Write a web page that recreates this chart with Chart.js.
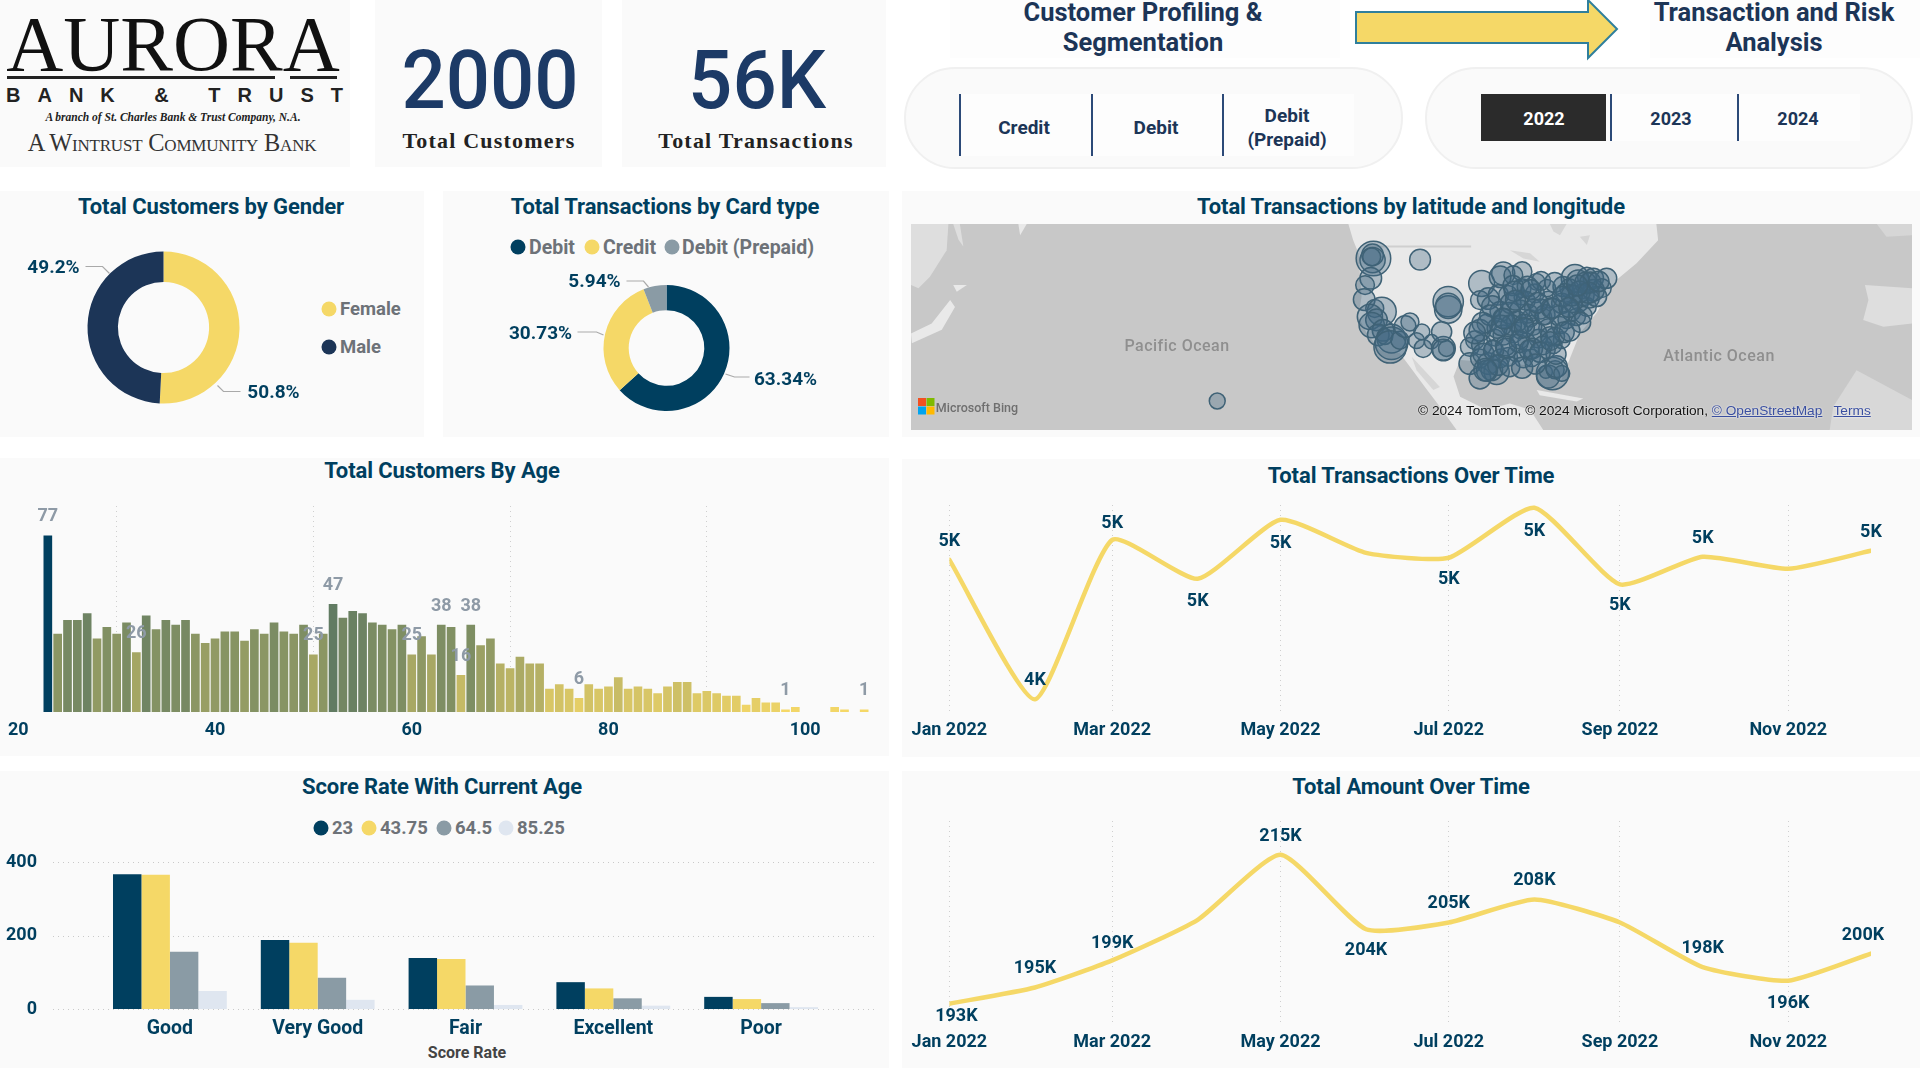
<!DOCTYPE html>
<html><head><meta charset="utf-8">
<script src="https://cdn.jsdelivr.net/npm/chart.js@4/dist/chart.umd.js"></script>
<style>
html,body{margin:0;padding:0;background:#fff;width:1920px;height:1080px;overflow:hidden;font-family:Roboto,sans-serif}
.p{position:absolute;background:#fafafa}
.t{position:absolute;transform:translate(-50%,-50%);white-space:nowrap;text-align:center}
.title{font-weight:700;font-size:22px;color:#003f5f;letter-spacing:-.1px}
.head{font-weight:700;font-size:25.5px;color:#1c3557;line-height:30px}
.kpi{font-weight:500;font-size:82px;color:#1c3a66;transform:translate(-50%,-50%) scaleX(.95)}
.kcap{font-family:"Liberation Serif",serif;font-weight:700;font-size:22px;color:#222;letter-spacing:1.2px}
.sl{font-weight:700;font-size:19px;color:#1c3557;line-height:24px}
.v{position:absolute;width:1.5px;background:#2c4a78}
.pill{position:absolute;background:#fafafa;border:2px solid #f0f0f0;border-radius:52px;box-sizing:border-box}
.leg{position:absolute;transform:translateY(-50%);font-weight:700;font-size:18.5px;color:#6d7278;white-space:nowrap}
.leg.w{font-size:19.5px}
.dot{position:absolute;width:15px;height:15px;border-radius:50%;transform:translate(-50%,-50%)}
canvas{position:absolute}
</style></head><body>
<div class="p" style="left:0;top:0;width:350px;height:167px"></div>
<div class="p" style="left:375px;top:0;width:227px;height:167px"></div>
<div class="p" style="left:622px;top:0;width:264px;height:167px"></div>
<div class="p" style="left:0;top:191px;width:424px;height:246px"></div>
<div class="p" style="left:443px;top:191px;width:446px;height:246px"></div>
<div class="p" style="left:902px;top:191px;width:1018px;height:246px"></div>
<div class="p" style="left:911px;top:224px;width:1001px;height:206px;background:#c8c8c8"></div>
<div class="p" style="left:0;top:458px;width:889px;height:298px"></div>
<div class="p" style="left:902px;top:459px;width:1018px;height:298px"></div>
<div class="p" style="left:0;top:771px;width:889px;height:297px"></div>
<div class="p" style="left:902px;top:771px;width:1018px;height:297px"></div>

<!-- logo -->
<div class="t" style="left:173px;top:44px;font:400 79px 'Liberation Serif',serif;color:#111">AURORA</div>
<div style="position:absolute;left:7px;top:76px;width:268px;height:3px;background:#222"></div>
<div style="position:absolute;left:290px;top:76px;width:47px;height:3px;background:#222"></div>
<div class="t" style="left:183px;top:95px;font:700 20px 'Liberation Sans',sans-serif;color:#222;letter-spacing:17px">BANK &amp; TRUST</div>
<div class="t" style="left:173px;top:117px;font:italic 700 11.5px 'Liberation Serif',serif;color:#222">A branch of St. Charles Bank &amp; Trust Company, N.A.</div>
<div class="t" style="left:172px;top:143px;font:400 24.4px 'Liberation Serif',serif;font-variant:small-caps;color:#333;letter-spacing:-.2px">A Wintrust Community Bank</div>

<div class="t kpi" style="left:490px;top:80px">2000</div>
<div class="t kcap" style="left:489px;top:141px">Total Customers</div>
<div class="t kpi" style="left:757px;top:80px">56K</div>
<div class="t kcap" style="left:756px;top:141px">Total Transactions</div>

<!-- header -->
<div class="p" style="left:950px;top:0;width:390px;height:58px;background:#fdfdfd"></div>
<div class="t head" style="left:1143px;top:27px">Customer Profiling &amp;<br>Segmentation</div>
<svg style="position:absolute;left:1350px;top:0" width="275" height="62"><path d="M6 12H238V0L267 29 238 58V43H6Z" fill="#f5d867" stroke="#2f7f9c" stroke-width="2"/></svg>
<div class="p" style="left:1650px;top:0;width:270px;height:58px;background:#fdfdfd"></div>
<div class="t head" style="left:1774px;top:27px">Transaction and Risk<br>Analysis</div>

<div class="pill" style="left:904px;top:67px;width:499px;height:102px"></div>
<div class="pill" style="left:1425px;top:67px;width:488px;height:102px"></div>
<div class="p" style="left:959px;top:94px;width:395px;height:62px;background:#fdfdfd"></div>
<div class="v" style="left:959px;top:94px;height:62px"></div>
<div class="v" style="left:1091px;top:94px;height:62px"></div>
<div class="v" style="left:1222px;top:94px;height:62px"></div>
<div class="t sl" style="left:1024px;top:128px">Credit</div>
<div class="t sl" style="left:1156px;top:128px">Debit</div>
<div class="t sl" style="left:1287px;top:128px">Debit<br>(Prepaid)</div>
<div class="p" style="left:1610px;top:94px;width:250px;height:47px;background:#fdfdfd"></div>
<div style="position:absolute;left:1481px;top:94px;width:125px;height:47px;background:#2b2b2b"></div>
<div class="v" style="left:1610px;top:94px;height:47px"></div>
<div class="v" style="left:1737px;top:94px;height:47px"></div>
<div class="t sl" style="left:1544px;top:119px;color:#fff;font-size:18px">2022</div>
<div class="t sl" style="left:1671px;top:119px;font-size:18px">2023</div>
<div class="t sl" style="left:1798px;top:119px;font-size:18px">2024</div>

<!-- titles -->
<div class="t title" style="left:211px;top:206px">Total Customers by Gender</div>
<div class="t title" style="left:665px;top:206px">Total Transactions by Card type</div>
<div class="t title" style="left:1411px;top:206px">Total Transactions by latitude and longitude</div>
<div class="t title" style="left:442px;top:470px">Total Customers By Age</div>
<div class="t title" style="left:1411px;top:475px">Total Transactions Over Time</div>
<div class="t title" style="left:442px;top:786px">Score Rate With Current Age</div>
<div class="t title" style="left:1411px;top:786px">Total Amount Over Time</div>

<!-- legends -->
<div class="dot" style="left:329px;top:309px;background:#f5d867"></div><div class="leg" style="left:340px;top:309px">Female</div>
<div class="dot" style="left:329px;top:347px;background:#1c3557"></div><div class="leg" style="left:340px;top:347px">Male</div>
<div class="dot" style="left:518px;top:247px;background:#003f5f"></div><div class="leg w" style="left:529px;top:247px">Debit</div>
<div class="dot" style="left:592px;top:247px;background:#f5d867"></div><div class="leg w" style="left:603px;top:247px">Credit</div>
<div class="dot" style="left:672px;top:247px;background:#8a9ba5"></div><div class="leg w" style="left:682px;top:247px">Debit (Prepaid)</div>
<div class="dot" style="left:321px;top:828px;background:#003f5f"></div><div class="leg" style="left:332px;top:828px">23</div>
<div class="dot" style="left:369px;top:828px;background:#f5d867"></div><div class="leg" style="left:380px;top:828px">43.75</div>
<div class="dot" style="left:444px;top:828px;background:#8a9ba5"></div><div class="leg" style="left:455px;top:828px">64.5</div>
<div class="dot" style="left:506px;top:828px;background:#dfe6f0"></div><div class="leg" style="left:517px;top:828px">85.25</div>
<div class="t" style="left:467px;top:1052px;font-size:16px;font-weight:700;color:#444">Score Rate</div>

<script>
/* ---------- data ---------- */
const genderNames=['Female','Male'];
const genderShare=[50.8,49.2];
const cardNames=['Debit','Credit','Debit (Prepaid)'];
const cardShare=[63.34,30.73,5.94];

const ageYears=[23,24,25,26,27,28,29,30,31,32,33,34,35,36,37,38,39,40,41,42,43,44,45,46,47,48,49,50,51,52,53,54,55,56,57,58,59,60,61,62,63,64,65,66,67,68,69,70,71,72,73,74,75,76,77,78,79,80,81,82,83,84,85,86,87,88,89,90,91,92,93,94,95,96,97,98,99,103,104,106];
const ageCustomers=[77,34,40,40,43,32,37,34,39,26,42,36,40,38,40,34,30,32,35,35,31,36,34,39,35,34,38,25,34,47,41,44,43,39,38,36,38,25,33,25,38,37,16,38,29,32,21,19,24,21,21,10,12,10,6,12,10,11,15,10,11,10,8,11,13,13,8,9,8,7,7,3,6,4,4,1,2,2,1,1];
const ageLabelled=[23,32,50,52,60,63,65,66,77,98,106];
const ageTicks=[20,40,60,80,100];

const scoreRates=['Good','Very Good','Fair','Excellent','Poor'];
const scoreAge23=[367,188,139,73,33];
const scoreAge4375=[365,180,136,56,27];
const scoreAge645=[156,85,64,29,16];
const scoreAge8525=[49,25,11,9,5];

const monthDays=[0,31,59,90,120,151,181,212,243,273,304,334];
const monthTickDays=[0,59,120,181,243,304];
const monthTickLabels=['Jan 2022','Mar 2022','May 2022','Jul 2022','Sep 2022','Nov 2022'];
const monthlyTransactions=[4723,3510,4897,4558,5071,4784,4741,5176,4510,4750,4645,4802];
const monthlyAmount=[193000,195400,199400,205400,215000,204000,205000,208400,205000,198400,196400,200400];

/* map: longitude, latitude, transactions at each location */
const mapLon=[-122.2,-122.4,-122.4,-122.6,-111.6,-122.8,-124.1,-124.3,-121.9,-120.3,-123,-121.5,-122.6,-120,-121.1,-118.1,-119.6,-118.1,-118.4,-116.2,-115,-113.9,-111.2,-112.4,-110.9,-109,-106.3,-106.7,-106.3,-105.6,-105.2,-105.2,-105.2,-157.7,
-97.6,-92.7,-93.4,-88.4,-90.4,-98,-96.1,-93.8,-91.6,-88.5,-88.5,-85.1,-85.5,-82.5,-82.8,-91.2,-88.9,-85.9,-83.6,-86.6,-93.4,
-76.4,-73.7,-72.2,-69.2,-70.3,-77.7,-79.1,-74.5,-72.2,-75.3,-73.7,-77.2,-79.4,-73,-71.5,-76,-74.5,-78.3,-79.8,-82.5,
-96.5,-98,-99.1,-100.3,-97.6,-94.6,-95,-100.3,-98,-96.1,-98,-94.2,-95.3,-91.6,-90.4,-92.7,-87.4,-84.7,-88.1,-86.2,-81.3,-79.4,-80.9,-85.9,-88.9,-82.8,-93.4,-89.7,
-81.5,-83,-80.9,-82.5,-80.6,-79.4,
-90.5,-87.2,-84.1,-81,-95.2,-91,-87.6,-84.3,-81.8,-78.6,-92.8,-89.6,-86.9,-83.2,-79.9,-76.9,-94.1,-90.9,-88,-85.1,-82.1,-78.9,-75.1,-92.2,-89.2,-86.1,-83.7,-80.7,-77.6,-97.2,-94.9,-92,-89,-86.8,-84.3,-82,-96.4,-93.9,-91.2,-88.4,-85.4,-75.7,-74,-72.9,-77.1,-75.4,-73.3,
-95.7,-97.4,-99.2,-96.8,-93.1,-90.2,-86.4,-84.9,-81.5,-79.2,-77.8,-75.9,-71,-89.9,-92.5,-87.9];
const mapLat=[47.5,48.2,47.2,47.8,47.3,43.7,42.4,39.6,37.9,37.3,36.3,35.7,34.7,33.7,32.8,32.1,32.5,31.2,30.5,31.8,34.4,35.3,33.4,31.7,30.2,31.5,30.2,33.4,29.9,30.2,39.2,37.7,38.4,20.1,
42.7,44.6,44,45,44.3,39.5,39.8,40.5,40.5,41.8,40,43,40.8,39.6,41.8,37,37.6,38.1,36.3,36,37.3,
43.7,44,43.7,43.7,41.8,41.8,42.1,40.5,41.4,38.9,38.2,37.3,38.9,39.8,40.2,36.3,36.6,35.7,34.7,34.1,
35,33.7,31.8,30.5,30.9,32.3,30.2,27.3,28.3,27.3,24.5,25.7,26.1,28.6,33.1,32.8,31.5,32.1,28.3,28.4,30.9,31.8,32.5,34.4,33.7,29.9,28.3,29.3,
25.4,25.7,26.1,24.8,26.7,25.4,
42.3,42.1,43.2,42.9,38.3,38.9,39.4,37.8,38,40.9,36,35.4,36.9,36.7,36.5,38.9,34.1,34.7,35,33.2,32.6,33.3,35.2,30.7,31.2,30.2,30.8,29.1,33.6,29.2,29.8,30.2,31.9,29.9,29.5,31.6,25.9,27,26.7,26.5,27.2,43.1,42.8,42.9,40.4,41.1,40.9,
36.6,35.1,33.2,26.1,34.6,41.2,41.5,39,37.9,40.2,38.1,42.3,43.1,39.5,35.9,34.2];
const mapTxn=[256,100,136,69,93,100,75,100,69,178,136,100,136,100,100,178,54,225,225,69,100,69,54,54,69,44,121,87,100,54,196,160,136,54,
144,114,100,81,75,75,100,87,75,75,49,60,75,60,64,100,87,64,60,64,87,
160,75,87,87,75,75,87,100,100,60,75,75,87,75,87,64,64,64,64,75,
75,100,75,75,87,60,64,100,75,100,100,136,100,75,75,87,64,75,75,64,64,60,75,64,60,60,75,64,
225,36,69,114,100,54,
85,90,75,85,95,90,75,85,90,75,85,90,75,85,90,75,85,90,75,85,75,90,85,85,75,90,75,85,90,95,85,90,75,85,90,75,95,90,85,95,85,110,100,95,95,100,95,
90,95,100,110,90,85,85,90,85,90,85,95,90,85,90,85];

/* base map outlines, [longitude, latitude] */
const northAmerica=[[-127.9,54.14],[-126.8,51],[-125.6,48.5],[-124.9,40.2],[-125.6,36.3],[-123.7,33.1],[-120.7,29.9],[-116.2,29.3],[-113.9,26.7],[-110.5,22.8],[-107.1,19],[-103.3,14.52],[-83.6,14.52],[-86.6,18.4],[-91.2,19.6],[-96.5,18.4],[-102.5,20.9],[-104,24.8],[-102.5,28],[-91.2,27.3],[-84,26.7],[-79.8,23.5],[-78.3,26.7],[-75.3,33.1],[-71.5,37],[-66.9,43.4],[-62.4,46.6],[-57.5,51],[-57.9,54.14]];
const cuba=[[-85.1,22.2],[-74.5,20.6],[-76,20],[-84.4,21.2]];
const eastAsia=[[-227.3,54.14],[-218.8,54.14],[-219.2,49.1],[-223,44],[-225.6,41.8],[-227.3,42.4]];
const kamchatka=[[-217.7,54.14],[-216.2,54.14],[-215.4,49.8],[-216.5,51.1]];
const hokkaido=[[-217.7,42.4],[-214.6,42.4],[-216.9,41.1]];
const honshu=[[-218.4,39.5],[-217.3,38.2],[-220.3,33.8],[-227.1,31.2],[-227.3,33.1],[-222.6,35]];
const alaskaTip=[[-202.9,54.14],[-201,54.14],[-202.5,52]];
const iberiaAfrica=[[0.2,41.8],[-10.5,42.4],[-9.7,39.5],[-10.9,35.7],[-6.3,34.4],[0.2,35]];
const westAfrica=[[-17.7,19],[-12.4,26],[0.2,20.3],[0.2,14.52],[-18.5,14.52]];
const northEurope=[[-7.8,54.14],[0.2,54.14],[0.2,52],[-5.6,51.7]];
const gulfOfCalifornia=[[-113.5,28.6],[-107.1,22.8],[-108.6,22.2],[-112.4,26]];
const lakeSuperior=[[-91.2,49.1],[-86.6,48.5],[-84.4,46.9],[-88.1,47.5]];
const hudson=[[-82.1,54.14],[-78.3,54.14],[-79.8,52],[-81.3,52.7]];
const jamesBay=[[-75.3,51.7],[-73,52],[-73.7,50.1]];
const canadaBorder=[[-124,49.8],[-100,49.8]];

/* ---------- helpers ---------- */
const GOLD='#f5d867',NAVY='#003f5f',GREY='#8a9ba5',PALE='#dfe6f0',INK='#003f5f';
const FONT='Roboto';
Chart.defaults.font.family=FONT;
Chart.defaults.animation=false;
Chart.defaults.responsive=false;
Chart.defaults.devicePixelRatio=1;
Chart.defaults.plugins.legend.display=false;
Chart.defaults.plugins.tooltip.enabled=false;
function canvas(x,y,w,h){const c=document.createElement('canvas');c.width=w;c.height=h;c.style.left=x+'px';c.style.top=y+'px';c.style.width=w+'px';c.style.height=h+'px';document.body.appendChild(c);return c;}
const dottedGrid={display:true,color:'#cfcfcf',lineWidth:1,drawTicks:false};
const dottedBorder={display:false,dash:[1,4]};

/* text + elbow leader for the doughnuts */
const calloutPlugin={id:'callouts',afterDraw(chart,_,o){
  const c=chart.ctx,m=chart.getDatasetMeta(0).data[0],d=chart.data.datasets[0].data;
  c.save();c.font='700 19px '+FONT;c.textAlign='center';c.textBaseline='middle';
  o.items.forEach(it=>{
    c.fillStyle=INK;c.fillText(d[it.i]+'%',m.x+it.tx,m.y+it.ty+1);
    c.strokeStyle='#a9a9a9';c.lineWidth=1.2;c.beginPath();
    it.line.forEach((p,k)=>k?c.lineTo(m.x+p[0],m.y+p[1]):c.moveTo(m.x+p[0],m.y+p[1]));c.stroke();
  });c.restore();}};
/* value labels on line points */
const pointLabelPlugin={id:'ptLabels',afterDatasetsDraw(chart,_,o){
  const c=chart.ctx,pts=chart.getDatasetMeta(0).data,d=chart.data.datasets[0].data;
  c.save();c.font='700 18px '+FONT;c.fillStyle=INK;c.textAlign='center';c.textBaseline='middle';
  o.offsets.forEach((of,i)=>{if(!of)return;c.fillText(Math.round(d[i].y/1000)+'K',pts[i].x+of[0],pts[i].y+of[1]+o.shift);});
  c.restore();}};
/* value labels above selected age bars */
const ageLabelPlugin={id:'ageLabels',afterDatasetsDraw(chart){
  const c=chart.ctx,m=chart.getDatasetMeta(0).data;
  c.save();c.font='700 18px '+FONT;c.fillStyle='#8e9aa6';c.textAlign='center';c.textBaseline='middle';
  ageYears.forEach((a,i)=>{if(ageLabelled.includes(a))c.fillText(ageCustomers[i],m[i].x,m[i].y-19);});
  c.restore();}};
/* horizontal dotted gridlines that run wider than the bar band */
const wideGridPlugin={id:'wideGrid',beforeDatasetsDraw(chart,_,o){
  const c=chart.ctx,y=chart.scales.y;c.save();c.strokeStyle='#c9c9c9';c.lineWidth=1;c.setLineDash([1,4]);
  y.ticks.forEach(t=>{const p=Math.round(y.getPixelForValue(t.value))+.5;c.beginPath();c.moveTo(o.from,p);c.lineTo(o.to,p);c.stroke();});
  c.restore();}};

/* ---------- doughnuts ---------- */
new Chart(canvas(0,191,424,246),{type:'doughnut',plugins:[calloutPlugin],
 data:{labels:genderNames,datasets:[{data:genderShare,backgroundColor:[GOLD,'#1c3557'],borderWidth:0}]},
 options:{cutout:'60%',layout:{padding:{left:87.5,right:184.5,top:60.5,bottom:33.5}},
  plugins:{callouts:{items:[
   {i:1,tx:-110,ty:-60,line:[[-78,-61],[-61,-61],[-54,-54]]},
   {i:0,tx:110,ty:65,line:[[77,64],[60,64],[54,58]]}]}}}});

new Chart(canvas(443,191,446,246),{type:'doughnut',plugins:[calloutPlugin],
 data:{labels:cardNames,datasets:[{data:cardShare,backgroundColor:[NAVY,GOLD,GREY],borderWidth:0}]},
 options:{cutout:'60%',layout:{padding:{left:160.5,right:159.5,top:94,bottom:26}},
  plugins:{callouts:{items:[
   {i:2,tx:-72,ty:-67,line:[[-40,-67],[-23,-67],[-18,-61]]},
   {i:1,tx:-126,ty:-15,line:[[-89,-16],[-70,-16],[-63,-13]]},
   {i:0,tx:119,ty:31,line:[[83,29],[68,29],[59,26]]}]}}}});

/* ---------- map ---------- */
const LAND='#e9e9e9',LAND2='#dedede',INLET='#d6d6d6';
const baseShapes=[
 [northAmerica,LAND],[cuba,LAND],[eastAsia,LAND2],[kamchatka,LAND2],[hokkaido,LAND],[honshu,LAND],[alaskaTip,LAND],
 [iberiaAfrica,LAND2],[westAfrica,'#d8d8d8'],[northEurope,INLET],
 [gulfOfCalifornia,INLET],[lakeSuperior,INLET],[hudson,INLET],[jamesBay,INLET]];
/* base map: outlines projected through the chart's lon/lat scales, under the bubbles */
const baseMapPlugin={id:'baseMap',beforeDatasetsDraw(chart){
  const c=chart.ctx,X=chart.scales.x,Y=chart.scales.y,A=chart.chartArea;
  const trace=pts=>{c.beginPath();pts.forEach((p,k)=>{const x=X.getPixelForValue(p[0]),y=Y.getPixelForValue(p[1]);k?c.lineTo(x,y):c.moveTo(x,y);});};
  c.save();c.beginPath();c.rect(A.left,A.top,A.right-A.left,A.bottom-A.top);c.clip();
  baseShapes.forEach(([pts,color])=>{trace(pts);c.closePath();c.fillStyle=color;c.fill();});
  trace(canadaBorder);c.strokeStyle='#cfcfcf';c.lineWidth=2;c.stroke();
  c.restore();}};
new Chart(canvas(911,224,1001,206),{type:'bubble',plugins:[baseMapPlugin],
 data:{datasets:[
  {data:mapLon.map((x,i)=>({x,y:mapLat[i],r:Math.sqrt(mapTxn[i])*1.08})),backgroundColor:'rgba(64,104,130,.34)',borderColor:'#3f6276',borderWidth:1.5}
 ]},
 options:{layout:{padding:0,autoPadding:false},
  scales:{
  x:{type:'linear',display:false,min:-227.3,max:0.2},
  y:{type:'linear',display:false,min:14.52,max:54.14}}}});

/* ---------- customers by age ---------- */
const mix=v=>{const t=(v-1)/76,a=[245,216,103],b=[0,63,95];return `rgb(${a.map((k,i)=>Math.round(k+(b[i]-k)*t)).join(',')})`;};
new Chart(canvas(0,458,889,298),{type:'bar',plugins:[ageLabelPlugin],
 data:{datasets:[{data:ageYears.map((x,i)=>({x,y:ageCustomers[i]})),backgroundColor:c=>mix(c.raw.y),barThickness:8}]},
 options:{layout:{padding:{left:18,right:15,top:48,bottom:0}},scales:{
  x:{type:'linear',offset:false,min:20,max:107,grid:dottedGrid,border:dottedBorder,afterFit(s){s.height=44;},
     afterBuildTicks(s){s.ticks=ageTicks.map(value=>({value}));},
     ticks:{color:INK,font:{size:18,weight:'700'},padding:8,maxRotation:0,autoSkip:false}},
  y:{display:false,min:0,max:90}}}});

/* ---------- score rate ---------- */
new Chart(canvas(0,771,889,297),{type:'bar',plugins:[wideGridPlugin],
 data:{labels:scoreRates,datasets:[
  {label:'23',data:scoreAge23,backgroundColor:NAVY},
  {label:'43.75',data:scoreAge4375,backgroundColor:GOLD},
  {label:'64.5',data:scoreAge645,backgroundColor:GREY},
  {label:'85.25',data:scoreAge8525,backgroundColor:PALE}]},
 options:{categoryPercentage:.77,barPercentage:1,layout:{padding:{left:0,right:54,top:91,bottom:0}},
  plugins:{wideGrid:{from:53,to:875}},
  scales:{
   x:{grid:{display:false},border:{display:false},afterFit(s){s.height=59;s.paddingLeft=0;s.paddingRight=0;},
      ticks:{color:INK,font:{size:19.5,weight:'700'},padding:0,maxRotation:0}},
   y:{min:0,max:400,grid:{display:false},border:{display:false},afterFit(s){s.width=96;s.paddingTop=0;s.paddingBottom=0;},
      afterBuildTicks(s){s.ticks=[0,200,400].map(value=>({value}));},
      ticks:{color:INK,font:{size:18,weight:'700'},padding:51}}}}});

/* ---------- lines ---------- */
function lineChart(x,y,h,vals,yMin,yMax,padTop,axisH,tickPad,shift,offsets){
 return new Chart(canvas(x,y,1018,h),{type:'line',plugins:[pointLabelPlugin],
  data:{datasets:[{data:monthDays.map((d,i)=>({x:d,y:vals[i]})),borderColor:GOLD,borderWidth:4.5,pointRadius:0,tension:.18,borderCapStyle:'round',borderJoinStyle:'round',fill:false}]},
  options:{layout:{padding:{left:47.4,right:49,top:padTop,bottom:0}},
   plugins:{ptLabels:{offsets,shift}},
   scales:{
    x:{type:'linear',min:0,max:334,grid:dottedGrid,border:dottedBorder,afterFit(s){s.height=axisH;},
       afterBuildTicks(s){s.ticks=monthTickDays.map(value=>({value}));},
       ticks:{color:INK,font:{size:18,weight:'700'},padding:tickPad,maxRotation:0,autoSkip:false,
              callback:v=>monthTickLabels[monthTickDays.indexOf(v)]}},
    y:{display:false,min:yMin,max:yMax}}}});
}
lineChart(902,459,298,monthlyTransactions,3400,5200,46,45,8,2,
 [[0,-20],[0,-21],[0,-18],[0,21],[0,22],null,[0,20],[0,22],[0,19],[0,-20],null,[0,-20]]);
lineChart(902,771,297,monthlyAmount,190000,220000,50,44,8,1,
 [[7,12],[0,-20],[0,-18],null,[0,-19],[0,20],[0,-20],[0,-20],null,[0,-20],[0,22],[-8,-19]]);
</script>

<!-- map annotations -->
<div class="t" style="left:1177px;top:345px;font-size:16px;color:#8f8f8f;font-weight:500;letter-spacing:.5px">Pacific Ocean</div>
<div class="t" style="left:1719px;top:355px;font-size:16px;color:#8f8f8f;font-weight:500;letter-spacing:.5px">Atlantic Ocean</div>
<svg style="position:absolute;left:918px;top:398px" width="17" height="17"><rect width="8" height="8" fill="#f25022"/><rect x="8.5" width="8" height="8" fill="#7fba00"/><rect y="8.5" width="8" height="8" fill="#00a4ef"/><rect x="8.5" y="8.5" width="8" height="8" fill="#ffb900"/></svg>
<div class="t" style="left:977px;top:407px;font-size:12.5px;color:#6f6f6f;font-weight:500">Microsoft Bing</div>
<div style="position:absolute;left:1418px;top:403px;font:13.7px 'Liberation Sans',sans-serif;color:#111;white-space:nowrap;text-shadow:0 0 2px #fff">© 2024 TomTom, © 2024 Microsoft Corporation, <span style="color:#3a4fa0;text-decoration:underline">© OpenStreetMap</span>&nbsp;&nbsp; <span style="color:#3a4fa0;text-decoration:underline">Terms</span></div>
</body></html>
